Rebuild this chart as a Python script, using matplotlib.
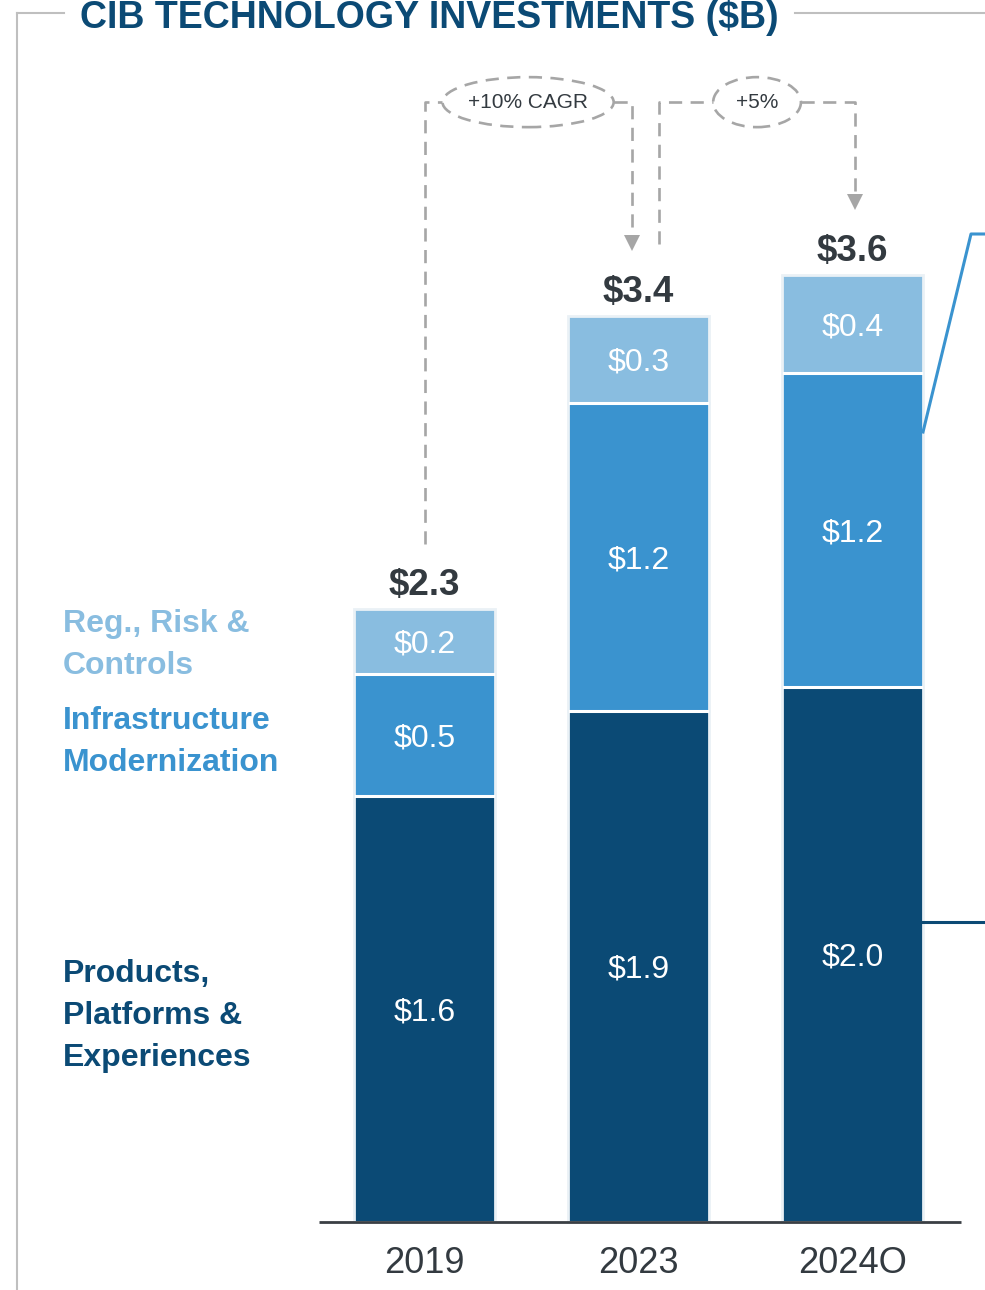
import numpy as np
import matplotlib.pyplot as plt
from matplotlib.patches import Ellipse

plt.rcParams['font.family'] = ['Liberation Sans', 'DejaVu Sans']

# dados ($B)
anos = ['2019', '2023', '2024O']
produtos = [1.60, 1.92, 2.01]
infra = [0.46, 1.16, 1.18]
regulatorio = [0.245, 0.325, 0.37]
rot_produtos = ['$1.6', '$1.9', '$2.0']
rot_infra = ['$0.5', '$1.2', '$1.2']
rot_reg = ['$0.2', '$0.3', '$0.4']
rot_total = ['$2.3', '$3.4', '$3.6']
crescimento = ['+10% CAGR', '+5%']

c_escuro = '#0b4a75'
c_medio = '#3a93cf'
c_claro = '#89bde0'
c_texto = '#333a40'
c_cinza = '#a6a6a6'

W, H = 985, 1290
fig = plt.figure(figsize=(W / 100, H / 100), dpi=100)
ax = fig.add_axes([0, 0, 1, 1])
ax.set_xlim(-424.5 / 214, (W - 424.5) / 214)
ax.set_ylim((1222 - H) / 266, 1222 / 266)
ax.axis('off')


def px(x, y):
    return x / W, 1 - y / H


x = np.arange(len(anos))
largura = 0.66
borda = dict(edgecolor='#eaf1f6', linewidth=2)
ax.bar(x, produtos, largura, color=c_escuro, **borda, zorder=2)
ax.bar(x, infra, largura, bottom=produtos, color=c_medio, **borda, zorder=2)
base_reg = np.array(produtos) + np.array(infra)
ax.bar(x, regulatorio, largura, bottom=base_reg, color=c_claro, **borda, zorder=2)
total = base_reg + np.array(regulatorio)

# separadores brancos entre segmentos
for i in x:
    for yy in [produtos[i], base_reg[i]]:
        ax.plot([i - largura / 2 + 0.01, i + largura / 2 - 0.01], [yy, yy], color='white', lw=2.2, zorder=3)

d = 0.012  # pequeno ajuste vertical dos rotulos
for i in x:
    ax.text(i, produtos[i] / 2 - d, rot_produtos[i], ha='center', va='center', color='white', fontsize=23, zorder=4)
    ax.text(i, produtos[i] + infra[i] / 2 - d, rot_infra[i], ha='center', va='center', color='white', fontsize=23,
            zorder=4)
    ax.text(i, base_reg[i] + regulatorio[i] / 2 - d, rot_reg[i], ha='center', va='center', color='white',
            fontsize=23, zorder=4)
    ax.text(i, total[i] + 0.053, rot_total[i], ha='center', va='baseline', color=c_texto, fontsize=26.5,
            fontweight='bold')
    ax.text(i, -0.192, anos[i], ha='center', va='baseline', color=c_texto, fontsize=26)

# linha de base
ax.plot([-0.495, 2.505], [0, 0], color='#3a3f44', lw=2, zorder=5, solid_capstyle='butt')

# chaves de crescimento
tracejado = dict(color=c_cinza, lw=1.9, linestyle=(0, (5, 3.2)))
y_top = 4.21
ell_h = 0.188
# 2019 -> 2023
e1_c, e1_w = 0.484, 0.80
ax.plot([0, 0, e1_c - e1_w / 2], [total[0] + 0.245, y_top, y_top], **tracejado)
ax.plot([e1_c + e1_w / 2, 0.97, 0.97], [y_top, y_top, total[1] + 0.30], **tracejado)
ax.plot([0.97], [total[1] + 0.275], marker='v', color=c_cinza, markersize=11, markeredgewidth=0)
ax.add_patch(Ellipse((e1_c, y_top), e1_w, ell_h, fill=False, **tracejado))
ax.text(e1_c, y_top, crescimento[0], ha='center', va='center', fontsize=15, color=c_texto)
# 2023 -> 2024O
e2_c, e2_w = 1.554, 0.41
ax.plot([1.096, 1.096, e2_c - e2_w / 2], [total[1] + 0.27, y_top, y_top], **tracejado)
ax.plot([e2_c + e2_w / 2, 2.01, 2.01], [y_top, y_top, total[2] + 0.30], **tracejado)
ax.plot([2.01], [total[2] + 0.275], marker='v', color=c_cinza, markersize=11, markeredgewidth=0)
ax.add_patch(Ellipse((e2_c, y_top), e2_w, ell_h, fill=False, **tracejado))
ax.text(e2_c, y_top, crescimento[1], ha='center', va='center', fontsize=15, color=c_texto)

# moldura e titulo
fig.add_artist(plt.Line2D([px(17, 0)[0]] * 2, [px(0, 13)[1], 0], color='#bfbfbf', lw=1.5))
fig.add_artist(plt.Line2D([px(17, 0)[0], px(64, 0)[0]], [px(0, 13)[1]] * 2, color='#bfbfbf', lw=1.5))
fig.add_artist(plt.Line2D([px(795, 0)[0], 1], [px(0, 13)[1]] * 2, color='#bfbfbf', lw=1.5))
fig.text(*px(80, 28), 'CIB TECHNOLOGY INVESTMENTS ($B)', ha='left', va='baseline', fontsize=27,
         fontweight='bold', color=c_escuro)

# legenda lateral
legenda = [
    (['Reg., Risk &', 'Controls'], 632, c_claro),
    (['Infrastructure', 'Modernization'], 729, c_medio),
    (['Products,', 'Platforms &', 'Experiences'], 982, c_escuro),
]
for linhas, y0, cor in legenda:
    for k, linha in enumerate(linhas):
        fig.text(*px(63, y0 + 42 * k), linha, ha='left', va='baseline', fontsize=23, fontweight='bold', color=cor)

# linhas de chamada a direita
fig.add_artist(plt.Line2D([px(923, 0)[0], px(971, 0)[0], 1], [px(0, 432)[1], px(0, 234)[1], px(0, 234)[1]],
                          color=c_medio, lw=2.2))
fig.add_artist(plt.Line2D([px(923, 0)[0], 1], [px(0, 922)[1]] * 2, color=c_escuro, lw=2.2))

fig.savefig('out.png', dpi=100)
